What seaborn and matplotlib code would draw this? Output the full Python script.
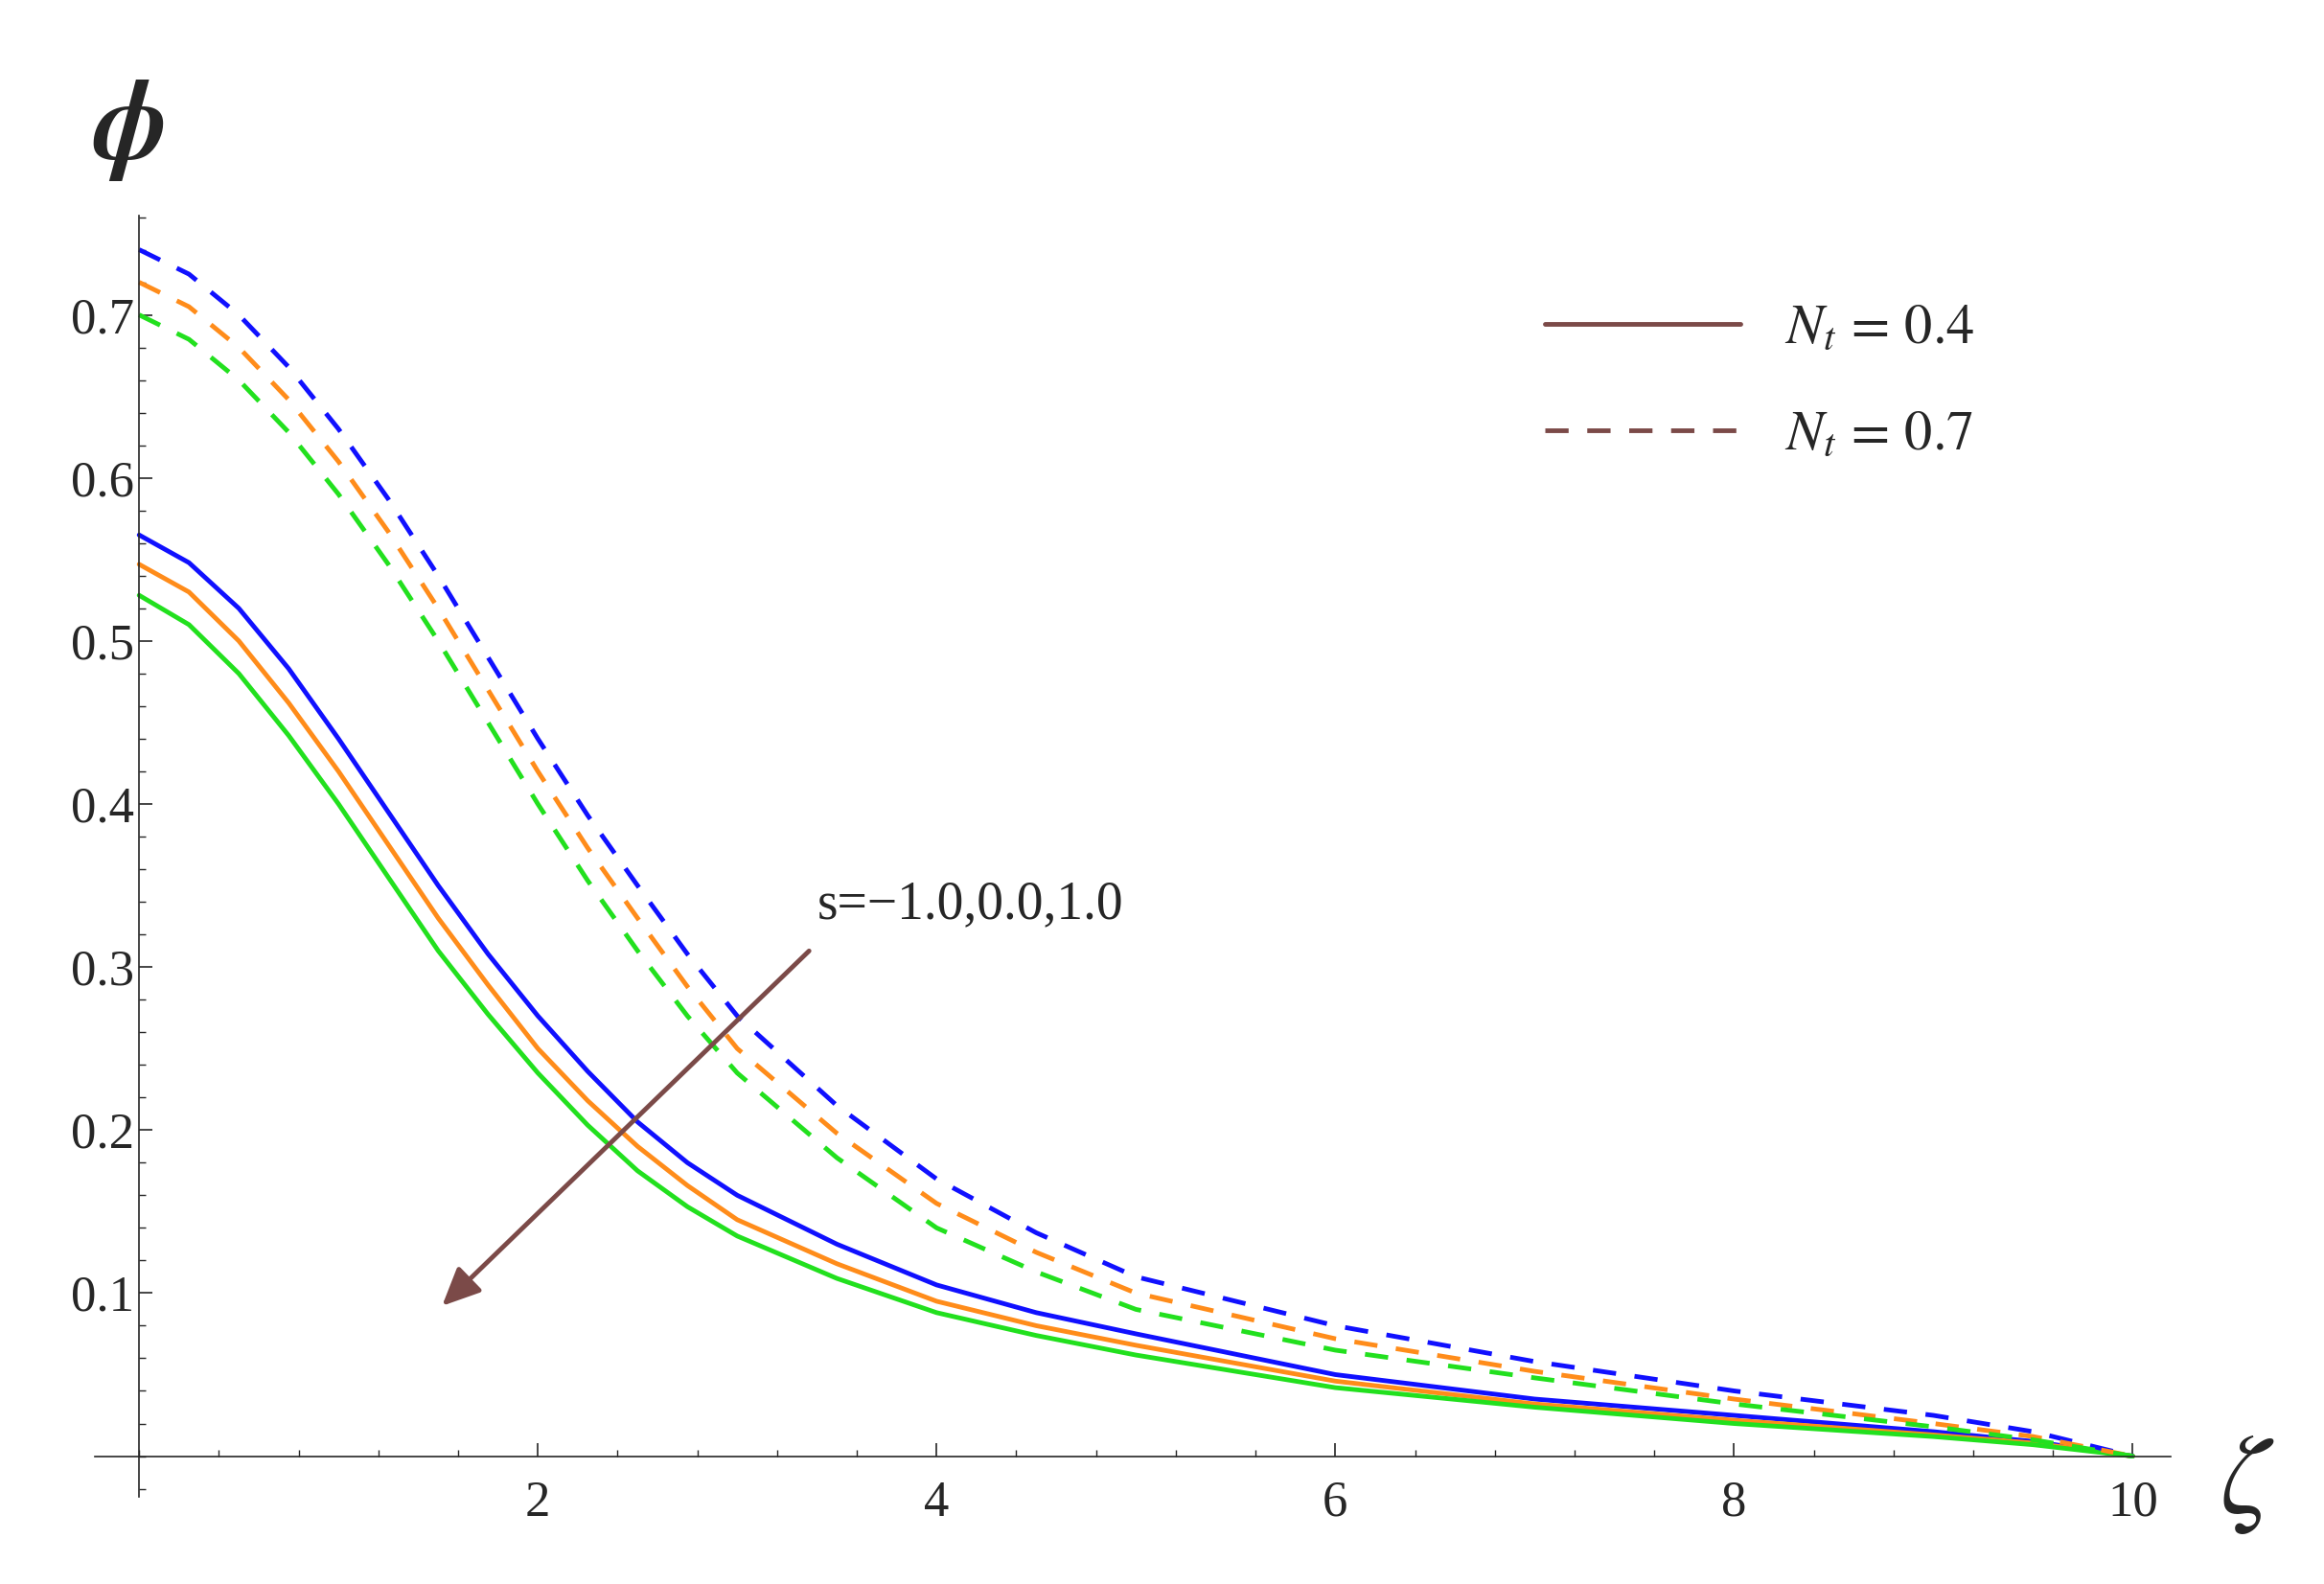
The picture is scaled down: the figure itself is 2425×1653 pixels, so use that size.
import numpy as np
import pandas as pd
import seaborn as sns
import matplotlib.pyplot as plt
from matplotlib.lines import Line2D
from matplotlib.ticker import MultipleLocator

zeta = [0, 0.25, 0.5, 0.75, 1, 1.25, 1.5, 1.75, 2, 2.25, 2.5, 2.75, 3, 3.5, 4, 4.5, 5, 6, 7, 8, 9, 9.5, 10]
solid_blue = [.565, .548, .52, .483, .44, .395, .35, .308, .27, .236, .205, .18, .16, .13, .105, .088, .075, .05, .035, .025, .015, .009, 0]
solid_orange = [.547, .530, .50, .462, .42, .375, .33, .289, .25, .218, .19, .166, .145, .118, .095, .080, .068, .046, .032, .022, .013, .008, 0]
solid_green = [.528, .510, .48, .442, .40, .355, .31, .271, .235, .203, .175, .153, .135, .109, .088, .074, .062, .042, .030, .020, .012, .007, 0]
dash_blue = [.74, .725, .70, .668, .63, .587, .54, .49, .44, .393, .35, .308, .27, .215, .17, .137, .11, .08, .058, .04, .025, .015, 0]
dash_orange = [.72, .705, .68, .648, .61, .567, .52, .47, .42, .373, .33, .288, .25, .198, .155, .125, .10, .072, .052, .035, .02, .012, 0]
dash_green = [.70, .685, .66, .628, .59, .547, .50, .45, .40, .353, .31, .270, .235, .183, .14, .113, .09, .065, .048, .032, .018, .01, 0]

sns.set_style("ticks")
plt.rcParams['font.family'] = ['Liberation Serif', 'DejaVu Serif']
plt.rcParams['mathtext.fontset'] = 'stix'

fig = plt.figure(figsize=(24.25, 16.53), dpi=100)
ax = fig.add_axes([0.041, 0.055, 0.893, 0.809])

colors = {"b": "#1010ff", "o": "#ff8c1a", "g": "#22e01e"}
series = [(solid_blue, "b", "-"), (solid_orange, "o", "-"), (solid_green, "g", "-"),
          (dash_blue, "b", "--"), (dash_orange, "o", "--"), (dash_green, "g", "--")]
for ys, c, ls in series:
    df = pd.DataFrame({"zeta": zeta, "phi": ys})
    line = sns.lineplot(data=df, x="zeta", y="phi", ax=ax, color=colors[c], linewidth=3.5)
    if ls == "--":
        ax.lines[-1].set_dashes((5, 4))

ax.set_xlim(-0.22, 10.19)
ax.set_ylim(-0.025, 0.761)
ax.spines['left'].set_position(('data', 0))
ax.spines['bottom'].set_position(('data', 0))
ax.spines['top'].set_visible(False)
ax.spines['right'].set_visible(False)
for s in ('left', 'bottom'):
    ax.spines[s].set_linewidth(1.2)
ax.set_xticks([2, 4, 6, 8, 10])
ax.set_yticks([0.1, 0.2, 0.3, 0.4, 0.5, 0.6, 0.7])
ax.xaxis.set_minor_locator(MultipleLocator(0.4))
ax.yaxis.set_minor_locator(MultipleLocator(0.02))
ax.tick_params(labelsize=38, direction='in', length=10, width=1.2)
ax.tick_params(which='minor', direction='in', length=5, width=1)
ax.tick_params(axis='x', pad=18)
ax.set_xlabel("")
ax.set_ylabel("")

fig.text(0.04, 0.90, r"$\boldsymbol{\phi}$", fontsize=84)
fig.text(0.955, 0.045, r"$\zeta$", fontsize=84)

brown = "#7b4a48"
ax.annotate("", xy=(1.51, 0.091), xytext=(3.37, 0.311),
            arrowprops=dict(arrowstyle="-|>,head_length=2.4,head_width=1.1",
                            color=brown, lw=3.5))
ax.text(3.4, 0.33, "s=\u22121.0,0.0,1.0", fontsize=40)

handles = [Line2D([], [], color=brown, lw=3.5),
           Line2D([], [], color=brown, lw=3.5, dashes=(5, 4))]
ax.legend(handles, [r"$N_t\,=\,0.4$", r"$N_t\,=\,0.7$"], loc='upper right',
          bbox_to_anchor=(0.93, 0.97), frameon=False, fontsize=42,
          handlelength=3.5, labelspacing=1.0)

fig.savefig("out.png", dpi=100)
